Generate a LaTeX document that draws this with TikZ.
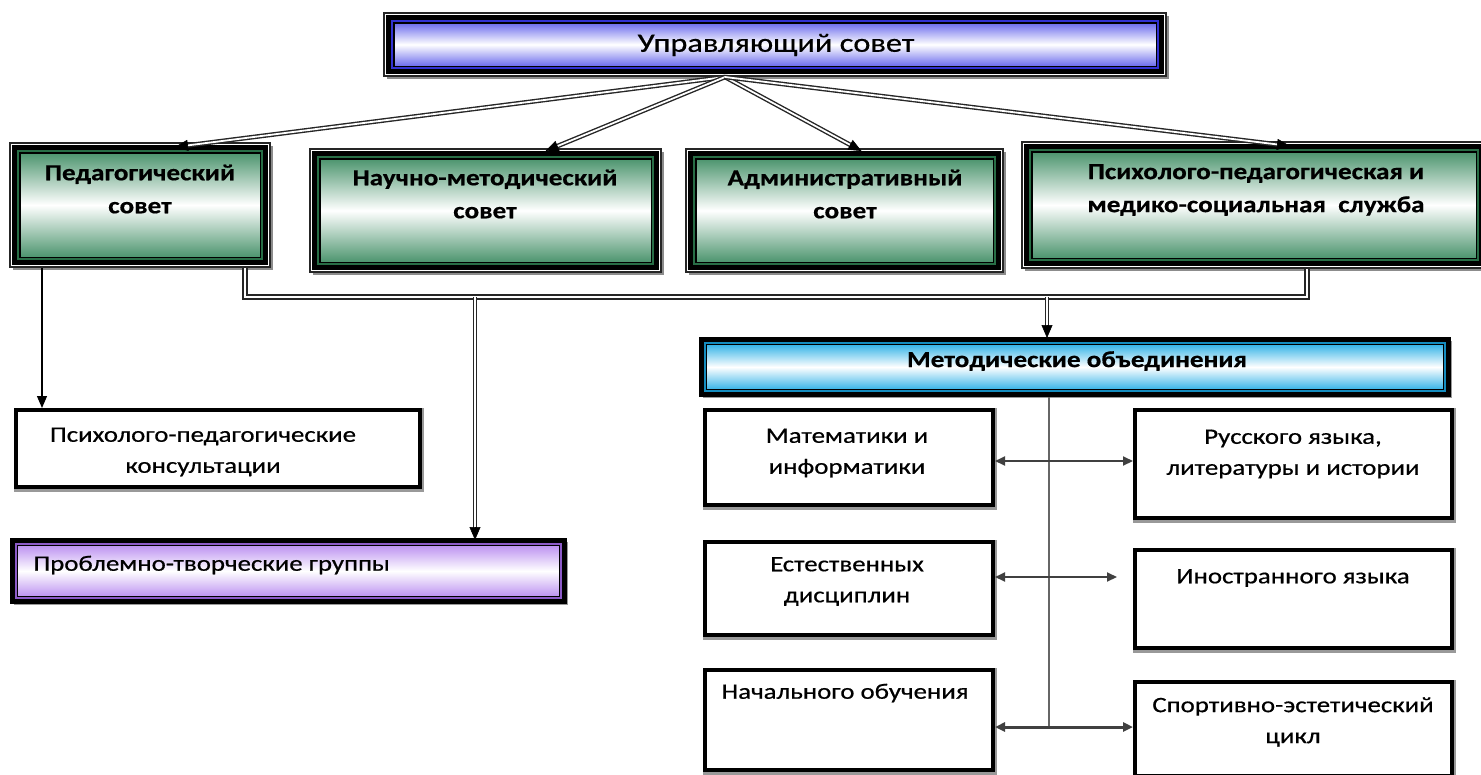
\documentclass[tikz,border=0pt]{standalone}
\usepackage{fontspec}
\setmainfont{Carlito}[FakeStretch=1.22,FakeBold=0.6,BoldFeatures={FakeStretch=1.18}]
\usetikzlibrary{arrows.meta,calc,backgrounds}
\definecolor{grn}{RGB}{70,145,105}
\definecolor{grnd}{RGB}{40,110,70}
\definecolor{blu}{RGB}{95,95,235}
\definecolor{blud}{RGB}{50,50,210}
\definecolor{cyn}{RGB}{40,175,230}
\definecolor{cynd}{RGB}{20,140,190}
\definecolor{prp}{RGB}{185,140,240}
\definecolor{prpd}{RGB}{140,90,200}
\newcommand{\dblarr}[2]{%
  \draw[dbl,shorten >=10pt] (#1) -- (#2);
  \draw[line width=0.6pt,-{Triangle[length=13pt,width=11pt]}] ($(#2)!13pt!(#1)$) -- (#2);}
\newcommand{\bframe}[1]{%
  \fill[black!45] ([shift={(-5,-5)}]#1.north west) rectangle ([shift={(10.5,10.5)}]#1.south east);
  \filldraw[fill=white,draw=black!85,line width=1.4pt] ([shift={(-8,-8)}]#1.north west) rectangle ([shift={(8,8)}]#1.south east);
  \draw[black,line width=3.5pt] ([shift={(-4,-4)}]#1.north west) rectangle ([shift={(4,4)}]#1.south east);}
\newcommand{\bthick}[1]{%
  \fill[black!40] ([shift={(-2,-2)}]#1.north west) rectangle ([shift={(7,7)}]#1.south east);
  \draw[black,line width=4.5pt] ([shift={(-3.5,-3.5)}]#1.north west) rectangle ([shift={(3.5,3.5)}]#1.south east);}
\begin{document}
\begin{tikzpicture}[x=1pt,y=-1pt,
  gbox/.style={draw=black,outer sep=0pt,line width=1.5pt,double=grnd,double distance=2pt,
    top color=grn,bottom color=grn,middle color=white},
  tbox/.style={draw=black,outer sep=0pt,line width=1.5pt,double=blud,double distance=2pt,
    top color=blu,bottom color=blu,middle color=white},
  plain/.style={draw=black,line width=4pt,fill=white},
  gtxt/.style={align=center,font=\fontsize{23}{33}\selectfont\bfseries},
  ptxt/.style={align=center,font=\fontsize{22}{31}\selectfont},
  dbl/.style={draw=black!85,line width=1.4pt,double=white,double distance=1.8pt},
  tip/.style={-{Triangle[length=12pt,width=10pt]}},
  thinl/.style={draw=black!75,line width=2pt}]
\useasboundingbox (0,0) rectangle (1481,774);

% top
\node[tbox,minimum width=766,minimum height=47] (top) at (775,44.5) {};
\node[font=\fontsize{26.5}{32}\selectfont] (ttop) at (776,45) {Управляющий совет};

% second row
\node[gbox,minimum width=244,minimum height=108] (ped) at (140,205) {};
\node[gbox,minimum width=335,minimum height=107] (nauch) at (485.5,210.5) {};
\node[gbox,minimum width=301,minimum height=107] (adm) at (844.5,210.5) {};
\node[gbox,minimum width=448,minimum height=110] (psy) at (1254,205) {};
\node[gtxt] (tped) at (140,189) {Педагогический\\совет};
\node[gtxt] (tnauch) at (485,194) {Научно-методический\\совет};
\node[gtxt] (tadm) at (845,194) {Административный\\совет};
\node[gtxt] (tpsy) at (1256,190) {Психолого-педагогическая и\\медико-социальная\ \ служба};

% left column
\node[plain,minimum width=404,minimum height=77] (kons) at (218,448.5) {};
\node[ptxt] (tkons) at (203,452) {Психолого-педагогические\\консультации};
\node[draw=black,outer sep=0pt,line width=1.2pt,double=prpd,double distance=1.5pt,
  top color=prp,bottom color=prp,middle color=white,
  minimum width=545,minimum height=54] (probl) at (288.5,571) {};
\node[anchor=west,font=\fontsize{22}{26}\selectfont] (tprobl) at (30,565) {Проблемно-творческие группы};

% methodical
\node[draw=black,outer sep=0pt,line width=1.2pt,double=cynd,double distance=1.5pt,
  top color=cyn,bottom color=cyn,middle color=white,
  minimum width=740,minimum height=48] (metod) at (1075,367) {};
\node[font=\fontsize{23}{26}\selectfont\bfseries] (tmetod) at (1077,361) {Методические объединения};

\node[plain,minimum width=288,minimum height=95] (mat) at (849,457.5) {};
\node[plain,minimum width=317,minimum height=108] (rus) at (1293.5,464) {};
\node[plain,minimum width=288,minimum height=93] (est) at (849,588.5) {};
\node[plain,minimum width=317,minimum height=98] (inos) at (1293.5,599) {};
\node[plain,minimum width=288,minimum height=100] (nach) at (849,720) {};
\node[plain,minimum width=317,minimum height=94] (sport) at (1293.5,729) {};
\node[ptxt] (tmat) at (847,453) {Математики и\\информатики};
\node[ptxt] (trus) at (1293,454) {Русского языка,\\литературы и истории};
\node[ptxt] (test) at (847,581.5) {Естественных\\дисциплин};
\node[ptxt] (tinos) at (1293,578) {Иностранного языка};
\node[ptxt] (tnach) at (845,693) {Начального обучения};
\node[ptxt] (tsport) at (1293,722) {Спортивно-эстетический\\цикл};

\begin{pgfonlayer}{background}
\foreach \b in {top,ped,nauch,adm,psy} {\bframe{\b}}
\bthick{probl}
\bthick{metod}
\foreach \b in {kons,mat,rus,est,inos,nach,sport}
  \fill[black!40] ([shift={(0,0)}]\b.north west) rectangle ([shift={(2,3)}]\b.south east);
\end{pgfonlayer}

% arrows from top
\coordinate (hub) at ($(top.south)+(-50,9)$);
\coordinate (aped) at ($(ped.north)+(35,-4)$);
\coordinate (anauch) at ($(nauch.north)+(60,-6)$);
\coordinate (aadm) at ($(adm.north)+(17,-6)$);
\coordinate (apsy) at ($(psy.north)+(36,-4)$);
\dblarr{hub}{aped}
\dblarr{hub}{anauch}
\dblarr{hub}{aadm}
\dblarr{hub}{apsy}

% ped to consultations
\coordinate (pk) at ($(ped.south west)+(24,9)$);
\draw[line width=1.3pt,tip] (pk) -- (pk |- kons.north);

% bar
\coordinate (p1) at ($(ped.south east)+(-17,9)$);
\coordinate (p2) at ($(psy.south)+(53,9)$);
\coordinate (b1) at ($(p1)+(230,29)$);
\coordinate (b2) at ($(p1)+(802,29)$);
\draw[dbl,line width=2pt] (p1) -- ($(p1)+(0,29)$) -| (p2);
\coordinate (b1e) at ($(b1 |- probl.north)+(0,-4)$);
\coordinate (b2e) at ($(b2 |- metod.north)+(0,-5)$);
\dblarr{b1}{b1e}
\dblarr{b2}{b2e}

% methodical tree
\coordinate (v0) at ($(metod.south)+(-26,6)$);
\coordinate (r1) at ($(mat.north east)+(0,53)$);
\coordinate (r2) at ($(est.north east)+(0,37)$);
\coordinate (r3) at ($(nach.north east)+(0,59)$);
\draw[draw=black!60,line width=2pt] (v0) -- (v0 |- r3);
\draw[thinl,{Triangle[length=10pt,width=9pt]}-{Triangle[length=10pt,width=9pt]}] (r1) -- (r1 -| rus.west);
\draw[thinl,{Triangle[length=10pt,width=9pt]}-{Triangle[length=10pt,width=9pt]}] (r2) -- ($(r2 -| inos.west)+(-16,0)$);
\draw[thinl,line width=3pt,{Triangle[length=10pt,width=9pt]}-{Triangle[length=10pt,width=9pt]}] (r3) -- (r3 -| sport.west);
\end{tikzpicture}
\end{document}
